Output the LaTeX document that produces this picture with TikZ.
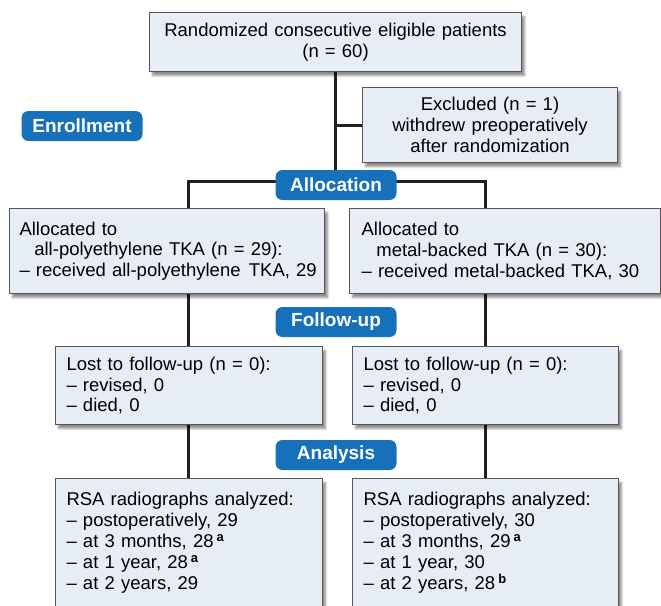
\documentclass[tikz,border=0pt]{standalone}
\usepackage{fontspec}
\setmainfont{Liberation Sans}
\usetikzlibrary{shadows.blur,backgrounds}
\definecolor{boxfill}{RGB}{231,237,246}
\definecolor{boxline}{RGB}{85,85,85}
\definecolor{stageblue}{RGB}{22,112,186}
\definecolor{linkblack}{RGB}{35,31,32}

\begin{document}
\begin{tikzpicture}[x=1pt, y=-1pt]
    % Define styles
    \tikzset{
        flowbox/.style={
            draw=boxline,
            line width=1.1pt,
            fill=boxfill,
            anchor=north west,
            inner xsep=11pt,
            inner ysep=0pt,
            font=\fontsize{18.5}{20.8}\selectfont,
            blur shadow={shadow xshift=3pt, shadow yshift=-4pt, shadow blur steps=6, shadow opacity=45}
        },
        leftbox/.style={
            flowbox,
            align=left
        },
        midbox/.style={
            flowbox,
            align=center
        },
        stage/.style={
            fill=stageblue,
            text=white,
            rounded corners=7pt,
            minimum width=121pt,
            minimum height=30pt,
            inner sep=0pt,
            font=\fontsize{19}{20}\selectfont\bfseries
        },
        link/.style={
            draw=linkblack,
            line width=3pt
        }
    }

    \useasboundingbox (0,0) rectangle (661,605);

    % Enrollment
    \node[midbox, text width=350pt, minimum height=59pt] (rand) at (149,12)
        {Randomized consecutive eligible patients\\(n = 60)};
    \node[midbox, text width=233pt, minimum height=75pt] (excl) at (362,87)
        {Excluded (n = 1)\\withdrew preoperatively\\after randomization};

    % Allocation
    \node[leftbox, text width=295pt, inner xsep=10pt, minimum height=85pt] (allocL) at (9,208)
        {Allocated to\\\hspace*{0.8em}all-polyethylene TKA (n = 29):\\\mbox{– received all-polyethylene\hspace{0.45em}TKA, 29}};
    \node[leftbox, text width=287pt, inner xsep=12pt, minimum height=85pt] (allocR) at (349,208)
        {Allocated to\\\hspace*{0.8em}metal-backed TKA (n = 30):\\\mbox{– received metal-backed TKA, 30}};

    % Follow-up
    \node[leftbox, text width=245pt, minimum height=78pt] (lostL) at (55,346)
        {Lost to follow-up (n = 0):\\– revised, 0\\– died, 0};
    \node[leftbox, text width=244pt, minimum height=78pt] (lostR) at (352,346)
        {Lost to follow-up (n = 0):\\– revised, 0\\– died, 0};

    % Analysis
    \node[leftbox, text width=245pt, inner ysep=14pt, text depth=150pt,
          font=\fontsize{18.5}{21}\selectfont] (rsaL) at (55,478)
        {RSA radiographs analyzed:\\– postoperatively, 29\\– at 3 months, 28\,\textsuperscript{\bfseries a}\\– at 1 year, 28\,\textsuperscript{\bfseries a}\\– at 2 years, 29};
    \node[leftbox, text width=244pt, inner ysep=14pt, text depth=150pt,
          font=\fontsize{18.5}{21}\selectfont] (rsaR) at (352,478)
        {RSA radiographs analyzed:\\– postoperatively, 30\\– at 3 months, 29\,\textsuperscript{\bfseries a}\\– at 1 year, 30\\– at 2 years, 28\,\textsuperscript{\bfseries b}};

    % Connectors
    \coordinate (split) at (rand.south |- 0,181);
    \coordinate (lsplit) at (188,181);
    \coordinate (rsplit) at (485,181);
    \begin{scope}[on background layer]
        \draw[link] (rand.south) -- (split);
        \draw[link] (split |- excl.west) -- (excl.west);
        \draw[link] (lsplit |- allocL.north) -- (lsplit) -- (rsplit) -- (rsplit |- allocR.north);
        \draw[link] (lsplit |- allocL.south) -- (lsplit |- lostL.north);
        \draw[link] (rsplit |- allocR.south) -- (rsplit |- lostR.north);
        \draw[link] (lsplit |- lostL.south) -- (lsplit |- rsaL.north);
        \draw[link] (rsplit |- lostR.south) -- (rsplit |- rsaR.north);
    \end{scope}

    % Stage labels
    \node[stage] (enroll) at (82,126) {Enrollment};
    \node[stage] (alloc) at (336,185) {Allocation};
    \node[stage] (follow) at (336,322) {Follow-up};
    \node[stage] (analysis) at (336,455) {Analysis};

\end{tikzpicture}
\end{document}
